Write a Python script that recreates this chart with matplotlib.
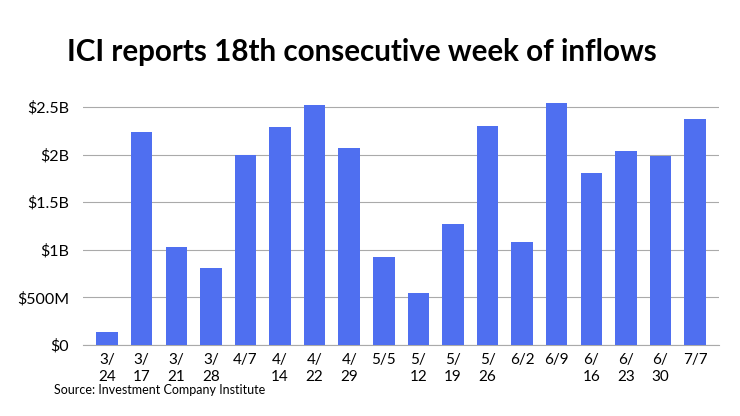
import matplotlib.pyplot as plt

weeks = ['3/\n24', '3/\n17', '3/\n21', '3/\n28', '4/7', '4/\n14', '4/\n22', '4/\n29', '5/5',
         '5/\n12', '5/\n19', '5/\n26', '6/2', '6/9', '6/\n16', '6/\n23', '6/\n30', '7/7']
inflows = [0.14, 2.24, 1.03, 0.81, 2.00, 2.29, 2.52, 2.07, 0.92,
           0.54, 1.27, 2.30, 1.08, 2.54, 1.81, 2.04, 1.99, 2.37]

plt.rcParams['font.family'] = ['Lato', 'DejaVu Sans']
fig = plt.figure(figsize=(7.4, 4.16), dpi=100)
ax = fig.add_axes([0.112, 0.171, 0.86, 0.59])
ax.bar(range(len(weeks)), inflows, width=0.62, color='#4f6ff0', zorder=3)
ax.set_xlim(-0.7, len(weeks) - 0.3)
ax.set_ylim(0, 2.58)
ax.set_yticks([0, 0.5, 1, 1.5, 2, 2.5])
ax.set_yticklabels(['$0', '$500M', '$1B', '$1.5B', '$2B', '$2.5B'], fontsize=11.5)
ax.set_xticks(range(len(weeks)))
ax.set_xticklabels(weeks, fontsize=11, linespacing=1.3)
ax.grid(axis='y', color='#aaaaaa', linewidth=0.8, zorder=0)
for s in ['top', 'right', 'left']:
    ax.spines[s].set_visible(False)
ax.spines['bottom'].set_color('#aaaaaa')
ax.tick_params(length=0, pad=6)
ax.tick_params(axis='y', pad=10)
fig.text(0.09, 0.875, 'ICI reports 18th consecutive week of inflows', fontsize=21.3,
         fontweight='bold', va='center')
fig.text(0.073, 0.062, 'Source: Investment Company Institute', fontsize=9, va='center')
fig.savefig('out.png', dpi=100)
